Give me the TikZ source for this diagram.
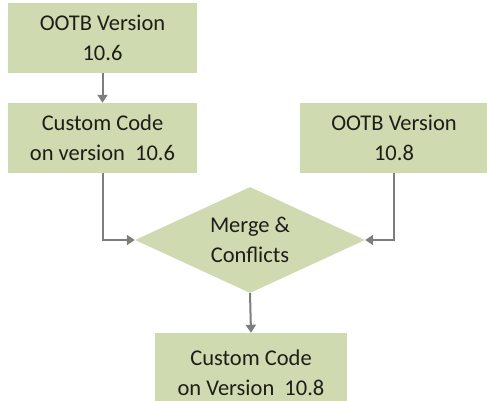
\documentclass[tikz,border=0pt]{standalone}
\usepackage{fontspec}
\setmainfont{Carlito}
\usetikzlibrary{shapes.geometric,arrows.meta}
\definecolor{boxfill}{RGB}{208,218,176}
\definecolor{linegray}{RGB}{125,125,125}
\definecolor{txt}{RGB}{30,30,25}
\tikzset{
  box/.style={fill=boxfill, draw=none, text=txt, minimum width=189pt, minimum height=70pt, align=center, inner sep=0pt, font=\fontsize{22.5}{30}\selectfont},
  dia/.style={diamond, aspect=2.17, fill=boxfill, draw=none, text=txt, minimum width=230pt, minimum height=106pt, inner sep=0pt, align=center, font=\fontsize{22.5}{30}\selectfont},
  conn/.style={draw=linegray, line width=2pt, -{Triangle[length=8pt,width=10pt]}}
}
\begin{document}
\begin{tikzpicture}[x=1pt,y=-1pt]
\useasboundingbox (0,0) rectangle (487,400);
\clip (0,0) rectangle (487,400);
\node[box] (ootb6) at (102.5,38) {OOTB Version\\10.6};
\node[box] (cust6) at (102.5,138) {Custom Code\\on version\ \ 10.6};
\node[box] (ootb8) at (394,138) {OOTB Version\\10.8};
\node[dia] (merge) at (250,240) {Merge \&\\Conflicts};
\node[box, minimum width=192pt, minimum height=80pt] (cust8) at (251,373) {Custom Code\\on Version\ \ 10.8};
\draw[conn] (ootb6) -- (cust6);
\draw[conn] (cust6.south) |- (merge.west);
\draw[conn] (ootb8.south) |- (merge.east);
\draw[conn] (merge.south) -- (cust8.north);
\end{tikzpicture}
\end{document}
